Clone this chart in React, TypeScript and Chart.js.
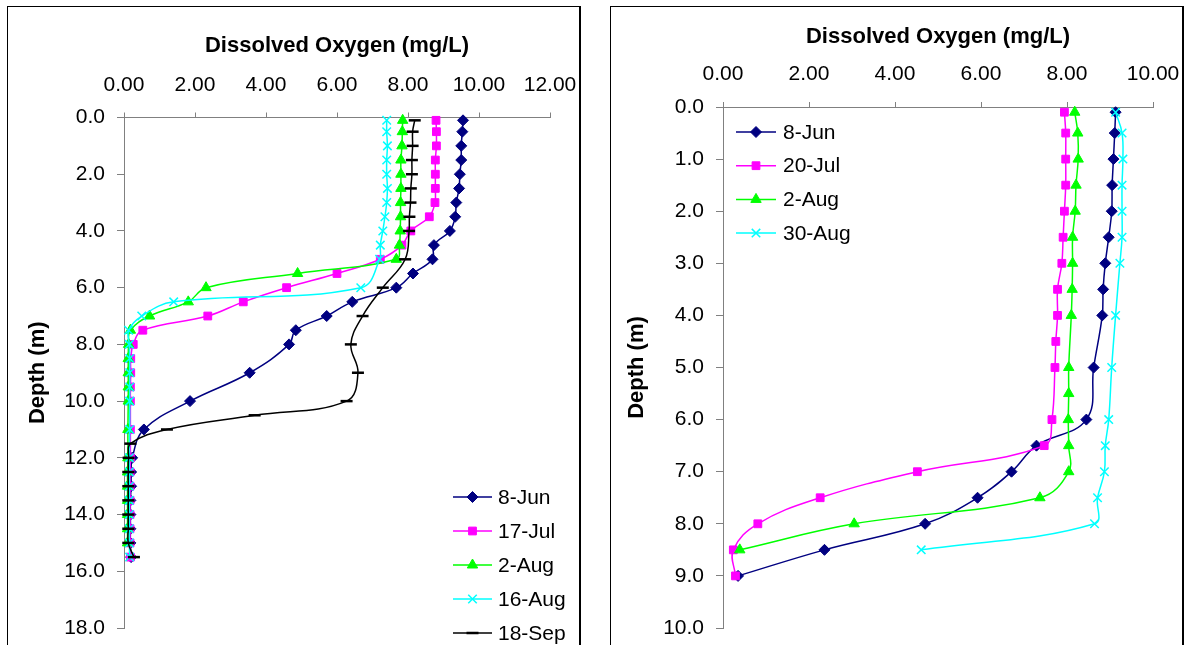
import React, { useEffect, useRef } from 'react';
import { Chart, registerables } from 'chart.js';
import { drawPoint } from 'chart.js/helpers';

Chart.register(...registerables);

const FONT = '"Liberation Sans", Arial, Helvetica, sans-serif';

// ---------- Left chart data ----------
const leftXTicks = [0, 2, 4, 6, 8, 10, 12];
const leftYTicks = [0, 2, 4, 6, 8, 10, 12, 14, 16, 18];
const leftLabels = ['8-Jun', '17-Jul', '2-Aug', '16-Aug', '18-Sep'];

const junDepthL = [0.1, 0.5, 1, 1.5, 2, 2.5, 3, 3.5, 4, 4.5, 5, 5.5, 6, 6.5, 7, 7.5, 8, 9, 10, 11, 12, 12.5, 13, 13.5, 14, 14.5, 15, 15.5];
const junDOL = [9.55, 9.53, 9.5, 9.5, 9.46, 9.44, 9.36, 9.33, 9.18, 8.73, 8.69, 8.14, 7.67, 6.43, 5.71, 4.84, 4.65, 3.54, 1.86, 0.56, 0.23, 0.2, 0.2, 0.18, 0.18, 0.18, 0.18, 0.2];

const julDepthL = [0.1, 0.5, 1, 1.5, 2, 2.5, 3, 3.5, 4, 4.5, 5, 5.5, 6, 6.5, 7, 7.5, 8, 8.5, 9, 9.5, 10, 11, 12, 12.5, 13, 13.5, 14, 14.5, 15, 15.5];
const julDOL = [8.79, 8.8, 8.8, 8.77, 8.77, 8.77, 8.76, 8.6, 8.08, 7.83, 7.22, 6.0, 4.58, 3.36, 2.36, 0.53, 0.26, 0.19, 0.19, 0.18, 0.18, 0.18, 0.18, 0.17, 0.17, 0.17, 0.17, 0.17, 0.17, 0.18];

const aug2DepthL = [0.1, 0.5, 1, 1.5, 2, 2.5, 3, 3.5, 4, 4.5, 5, 5.5, 6, 6.5, 7, 7.5, 8, 8.5, 9, 9.5, 10, 11, 12, 12.5, 13, 13.5, 14, 14.5, 15];
const aug2DOL = [7.85, 7.84, 7.83, 7.8, 7.8, 7.8, 7.79, 7.79, 7.78, 7.76, 7.67, 4.89, 2.31, 1.81, 0.72, 0.18, 0.13, 0.12, 0.12, 0.12, 0.12, 0.11, 0.11, 0.1, 0.1, 0.1, 0.1, 0.1, 0.1];

const aug16DepthL = [0.1, 0.5, 1, 1.5, 2, 2.5, 3, 3.5, 4, 4.5, 5, 6, 6.5, 7, 7.5, 8, 8.5, 9, 9.5, 10, 11, 12, 12.5, 13, 13.5, 14, 14.5, 15, 15.5];
const aug16DOL = [7.4, 7.4, 7.42, 7.4, 7.4, 7.42, 7.4, 7.35, 7.29, 7.22, 7.2, 6.67, 1.4, 0.5, 0.13, 0.15, 0.16, 0.16, 0.16, 0.16, 0.16, 0.15, 0.15, 0.15, 0.15, 0.15, 0.15, 0.15, 0.16];

const sepDepthL = [0.1, 0.5, 1, 1.5, 2, 2.5, 3, 3.5, 4, 5, 6, 7, 8, 9, 10, 10.5, 11, 11.5, 12, 12.5, 13, 13.5, 14, 14.5, 15, 15.5];
const sepDOL = [8.19, 8.13, 8.13, 8.11, 8.11, 8.08, 8.07, 8.04, 8.03, 7.92, 7.29, 6.72, 6.39, 6.59, 6.27, 3.68, 1.21, 0.18, 0.13, 0.12, 0.12, 0.12, 0.12, 0.12, 0.12, 0.28];

// ---------- Right chart data ----------
const rightXTicks = [0, 2, 4, 6, 8, 10];
const rightYTicks = [0, 1, 2, 3, 4, 5, 6, 7, 8, 9, 10];
const rightLabels = ['8-Jun', '20-Jul', '2-Aug', '30-Aug'];

const junDepthR = [0.1, 0.5, 1, 1.5, 2, 2.5, 3, 3.5, 4, 5, 6, 6.5, 7, 7.5, 8, 8.5, 9];
const junDOR = [9.13, 9.11, 9.08, 9.05, 9.04, 8.97, 8.89, 8.84, 8.82, 8.62, 8.45, 7.29, 6.71, 5.92, 4.7, 2.36, 0.35];

const julDepthR = [0.1, 0.5, 1, 1.5, 2, 2.5, 3, 3.5, 4, 4.5, 5, 6, 6.5, 7, 7.5, 8, 8.5, 9];
const julDOR = [7.94, 7.97, 7.97, 7.97, 7.94, 7.91, 7.88, 7.78, 7.78, 7.74, 7.72, 7.65, 7.47, 4.52, 2.26, 0.81, 0.24, 0.29];

const aug2DepthR = [0.1, 0.5, 1, 1.5, 2, 2.5, 3, 3.5, 4, 5, 5.5, 6, 6.5, 7, 7.5, 8, 8.5];
const aug2DOR = [8.18, 8.25, 8.26, 8.21, 8.19, 8.13, 8.13, 8.12, 8.1, 8.04, 8.04, 8.03, 8.04, 8.04, 7.37, 3.05, 0.39];

const aug30DepthR = [0.1, 0.5, 1, 1.5, 2, 2.5, 3, 4, 5, 6, 6.5, 7, 7.5, 8, 8.5];
const aug30DOR = [9.13, 9.28, 9.3, 9.28, 9.28, 9.28, 9.23, 9.13, 9.04, 8.97, 8.89, 8.87, 8.71, 8.64, 4.61];

// ---------- Styles ----------
type Style = { color: string; pointStyle: any; radius: number; pointBorderWidth: number };
const NAVY: Style = { color: '#000080', pointStyle: 'rectRot', radius: 5.5, pointBorderWidth: 1 };
const MAGENTA: Style = { color: '#FF00FF', pointStyle: 'rect', radius: 5.5, pointBorderWidth: 1 };
const GREEN: Style = { color: '#00FF00', pointStyle: 'triangle', radius: 6, pointBorderWidth: 1 };
const CYAN: Style = { color: '#00FFFF', pointStyle: 'crossRot', radius: 6, pointBorderWidth: 1.5 };
const BLACK: Style = { color: '#000000', pointStyle: 'line', radius: 6, pointBorderWidth: 2.5 };

type Series = { label: string; depth: number[]; values: number[]; style: Style };

const leftSeries: Series[] = [
  { label: leftLabels[0], depth: junDepthL, values: junDOL, style: NAVY },
  { label: leftLabels[1], depth: julDepthL, values: julDOL, style: MAGENTA },
  { label: leftLabels[2], depth: aug2DepthL, values: aug2DOL, style: GREEN },
  { label: leftLabels[3], depth: aug16DepthL, values: aug16DOL, style: CYAN },
  { label: leftLabels[4], depth: sepDepthL, values: sepDOL, style: BLACK },
];

const rightSeries: Series[] = [
  { label: rightLabels[0], depth: junDepthR, values: junDOR, style: NAVY },
  { label: rightLabels[1], depth: julDepthR, values: julDOR, style: MAGENTA },
  { label: rightLabels[2], depth: aug2DepthR, values: aug2DOR, style: GREEN },
  { label: rightLabels[3], depth: aug30DepthR, values: aug30DOR, style: CYAN },
];

type Params = {
  series: Series[];
  xTicks: number[];
  yTicks: number[];
  yDecimals: number;
  width: number;
  height: number;
  area: { left: number; top: number; right: number; bottom: number };
  xTitlePad: number;
  yTitlePad: number;
  legend: { x: number; y: number; row: number; lineLen: number; gap: number };
};

function buildConfig(p: Params): any {
  const legendPlugin = {
    id: 'profileLegend',
    afterDatasetsDraw(chart: any) {
      const ctx = chart.ctx;
      ctx.save();
      p.series.forEach((s, i) => {
        const y = p.legend.y + i * p.legend.row;
        const x0 = p.legend.x;
        const x1 = x0 + p.legend.lineLen;
        ctx.strokeStyle = s.style.color;
        ctx.lineWidth = 1.5;
        ctx.beginPath();
        ctx.moveTo(x0, y);
        ctx.lineTo(x1, y);
        ctx.stroke();
        ctx.fillStyle = s.style.color;
        ctx.strokeStyle = s.style.color;
        ctx.lineWidth = s.style.pointBorderWidth;
        drawPoint(ctx, { pointStyle: s.style.pointStyle, radius: s.style.radius, rotation: 0, borderWidth: s.style.pointBorderWidth } as any, (x0 + x1) / 2, y);
        ctx.fillStyle = '#000';
        ctx.font = `21px ${FONT}`;
        ctx.textBaseline = 'middle';
        ctx.textAlign = 'left';
        ctx.fillText(s.label, x1 + p.legend.gap, y + 1);
      });
      ctx.restore();
    },
  };

  const n = p.series.length;
  return {
    type: 'scatter',
    data: {
      datasets: p.series.map((s, i) => ({
        label: s.label,
        data: s.depth.map((d, j) => ({ x: s.values[j], y: d })),
        showLine: true,
        borderColor: s.style.color,
        backgroundColor: s.style.color,
        borderWidth: 1.5,
        tension: 0.4,
        pointStyle: s.style.pointStyle,
        pointRadius: s.style.radius,
        pointHoverRadius: s.style.radius,
        pointBorderWidth: s.style.pointBorderWidth,
        pointBackgroundColor: s.style.color,
        pointBorderColor: s.style.color,
        order: n - i,
        clip: false,
      })),
    },
    options: {
      animation: false,
      responsive: false,
      events: [],
      layout: {
        padding: { left: 0, top: 0, right: p.width - p.area.right, bottom: p.height - p.area.bottom },
      },
      plugins: { legend: { display: false }, tooltip: { enabled: false } },
      scales: {
        x: {
          type: 'linear',
          position: 'top',
          min: p.xTicks[0],
          max: p.xTicks[p.xTicks.length - 1],
          afterBuildTicks: (scale: any) => {
            scale.ticks = p.xTicks.map((v) => ({ value: v }));
          },
          afterFit: (scale: any) => {
            scale.height = p.area.top;
            scale.paddingLeft = 0;
            scale.paddingRight = 0;
          },
          ticks: {
            font: { family: FONT, size: 21 },
            color: '#000',
            padding: 15,
            maxRotation: 0,
            autoSkip: false,
            callback: (v: any) => Number(v).toFixed(2),
          },
          grid: { drawOnChartArea: false, drawTicks: true, tickLength: 5, color: '#808080', lineWidth: 1 },
          border: { display: true, color: '#808080', width: 1 },
          title: {
            display: true,
            text: 'Dissolved Oxygen (mg/L)',
            color: '#000',
            font: { family: FONT, size: 22, weight: 'bold' },
            padding: { top: p.xTitlePad, bottom: 0 },
          },
        },
        y: {
          type: 'linear',
          position: 'left',
          reverse: true,
          min: p.yTicks[0],
          max: p.yTicks[p.yTicks.length - 1],
          afterBuildTicks: (scale: any) => {
            scale.ticks = p.yTicks.map((v) => ({ value: v }));
          },
          afterFit: (scale: any) => {
            scale.width = p.area.left;
            scale.paddingTop = 0;
            scale.paddingBottom = 0;
          },
          ticks: {
            font: { family: FONT, size: 21 },
            color: '#000',
            padding: 12,
            autoSkip: false,
            callback: (v: any) => Number(v).toFixed(p.yDecimals),
          },
          grid: { drawOnChartArea: false, drawTicks: true, tickLength: 7, color: '#808080', lineWidth: 1 },
          border: { display: true, color: '#808080', width: 1 },
          title: {
            display: true,
            text: 'Depth (m)',
            color: '#000',
            font: { family: FONT, size: 22, weight: 'bold' },
            padding: { top: p.yTitlePad, bottom: 0 },
          },
        },
      },
    },
    plugins: [legendPlugin],
  };
}

function ChartPanel({ left, top, params }: { left: number; top: number; params: Params }) {
  const ref = useRef<HTMLCanvasElement>(null);
  useEffect(() => {
    const chart = new Chart(ref.current as HTMLCanvasElement, buildConfig(params));
    return () => chart.destroy();
  }, []);
  const { width, height } = params;
  return (
    <div style={{ position: 'absolute', left, top, width, height }}>
      <canvas ref={ref} width={width} height={height} style={{ position: 'absolute', left: 0, top: 0, width, height, display: 'block' }} />
      <div
        style={{
          position: 'absolute',
          left: 0,
          top: 0,
          width,
          height,
          boxSizing: 'border-box',
          borderTop: '1px solid #000',
          borderLeft: '1px solid #000',
          borderRight: '2px solid #000',
          borderBottom: '2px solid #000',
          pointerEvents: 'none',
        }}
      />
    </div>
  );
}

const leftParams: Params = {
  series: leftSeries,
  xTicks: leftXTicks,
  yTicks: leftYTicks,
  yDecimals: 1,
  width: 574,
  height: 700,
  area: { left: 117, top: 111.5, right: 543, bottom: 622 },
  xTitlePad: 27,
  yTitlePad: 18,
  legend: { x: 446, y: 491, row: 34, lineLen: 39, gap: 6 },
};

const rightParams: Params = {
  series: rightSeries,
  xTicks: rightXTicks,
  yTicks: rightYTicks,
  yDecimals: 1,
  width: 574,
  height: 700,
  area: { left: 113, top: 101, right: 543, bottom: 622 },
  xTitlePad: 18,
  yTitlePad: 14,
  legend: { x: 126, y: 126, row: 33.7, lineLen: 40, gap: 7 },
};

export default function App() {
  return (
    <div style={{ position: 'fixed', left: 0, top: 0, width: 1185, height: 645, overflow: 'hidden', background: '#fff' }}>
      <ChartPanel left={7} top={6} params={leftParams} />
      <ChartPanel left={610} top={6} params={rightParams} />
    </div>
  );
}
